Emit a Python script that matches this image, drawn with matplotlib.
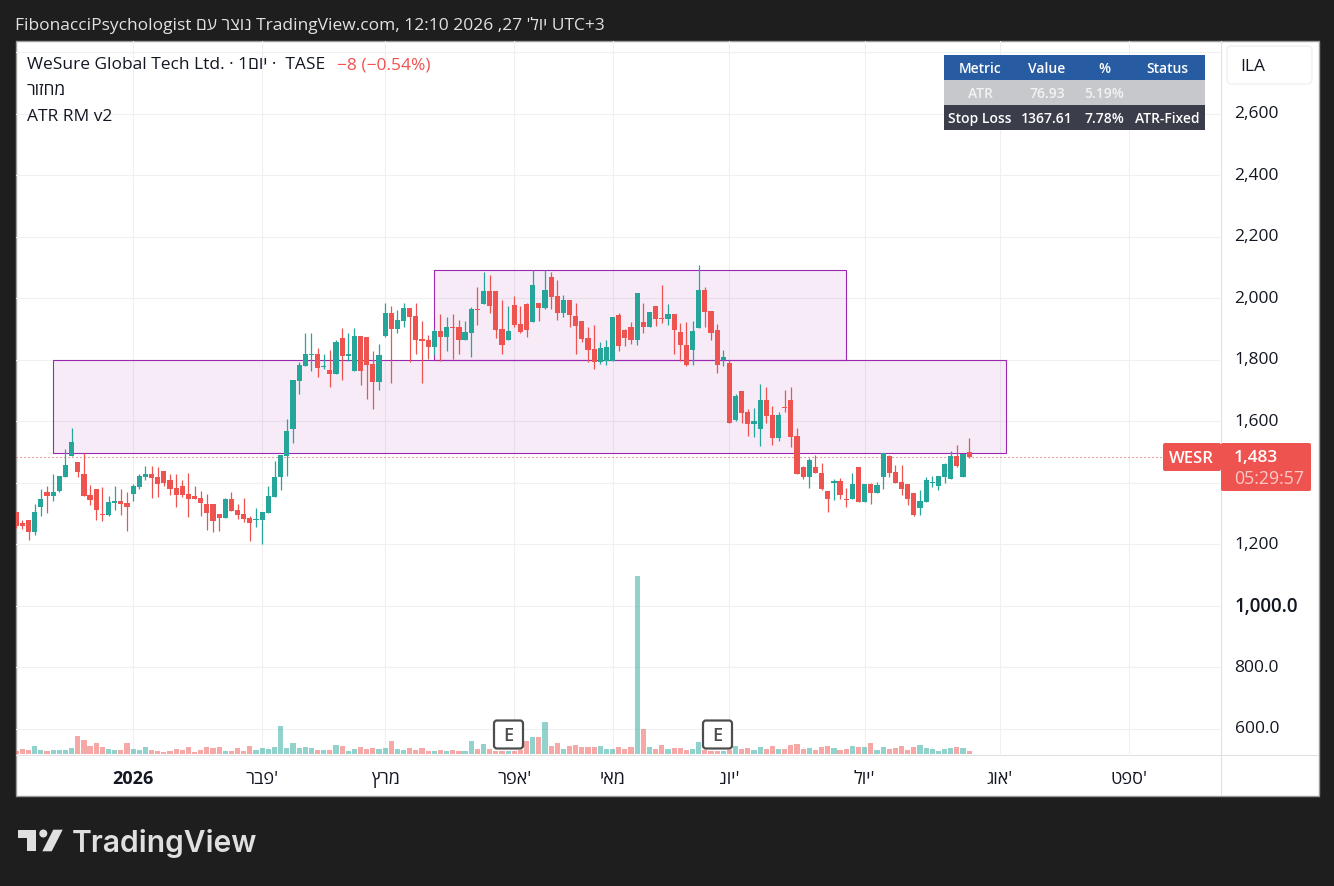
import matplotlib
matplotlib.use("Agg")
import matplotlib.pyplot as plt
from matplotlib.patches import FancyBboxPatch, Rectangle, Polygon, Circle
from matplotlib.transforms import ScaledTranslation

plt.rcParams['font.family'] = ['Open Sans', 'DejaVu Sans']

opens = [1305, 1269, 1279, 1240, 1321, 1370, 1357, 1373, 1419, 1487,
         1468, 1429, 1360, 1380, 1299, 1294, 1334, 1341, 1334, 1364,
         1386, 1419, 1429, 1419, 1439, 1409, 1383, 1390, 1364, 1357,
         1351, 1331, 1331, 1299, 1286, 1347, 1312, 1299, 1286, 1279,
         1279, 1302, 1354, 1419, 1487, 1575, 1731, 1780, 1816, 1819,
         1777, 1767, 1754, 1871, 1813, 1764, 1878, 1874, 1786, 1728,
         1878, 1952, 1900, 1926, 1969, 1943, 1868, 1865, 1842, 1894,
         1874, 1907, 1907, 1865, 1887, 1965, 1982, 2024, 2024, 1900,
         1865, 1978, 1917, 1982, 1923, 1985, 1969, 2069, 2008, 1952,
         1995, 1943, 1926, 1871, 1835, 1793, 1796, 1796, 1946, 1897,
         1907, 1865, 1923, 1907, 1975, 1936, 1933, 1949, 1891, 1848,
         1832, 1904, 2027, 1959, 1897, 1799, 1790, 1604, 1699, 1630,
         1591, 1575, 1669, 1621, 1546, 1647, 1669, 1552, 1452, 1419,
         1452, 1432, 1373, 1399, 1406, 1347, 1347, 1452, 1338, 1396,
         1367, 1419, 1487, 1435, 1403, 1396, 1367, 1318, 1338, 1399,
         1390, 1419, 1412, 1487, 1419, 1500]
highs = [1305, 1278, 1279, 1331, 1380, 1390, 1429, 1422, 1510, 1578,
         1468, 1497, 1393, 1380, 1386, 1357, 1390, 1380, 1370, 1396,
         1429, 1455, 1455, 1452, 1439, 1429, 1429, 1409, 1432, 1390,
         1373, 1364, 1331, 1299, 1351, 1370, 1331, 1351, 1292, 1318,
         1305, 1390, 1471, 1491, 1608, 1734, 1793, 1887, 1887, 1838,
         1819, 1832, 1864, 1904, 1887, 1904, 1878, 1874, 1829, 1851,
         1985, 1975, 1962, 1985, 1969, 1985, 1926, 1881, 1900, 1949,
         1939, 1949, 1930, 1926, 1972, 2037, 2086, 2076, 2024, 1995,
         1975, 2008, 1975, 1985, 2092, 1985, 2092, 2086, 2060, 2011,
         1995, 1985, 1926, 1907, 1913, 1858, 1865, 1939, 1952, 1900,
         1923, 2017, 1985, 1956, 1975, 2043, 1982, 1949, 1920, 1923,
         1926, 2108, 2037, 1959, 1917, 1832, 1799, 1689, 1699, 1640,
         1643, 1721, 1712, 1650, 1630, 1702, 1712, 1578, 1455, 1481,
         1491, 1465, 1373, 1412, 1416, 1383, 1432, 1452, 1396, 1399,
         1403, 1497, 1491, 1458, 1458, 1396, 1367, 1377, 1419, 1422,
         1422, 1465, 1504, 1523, 1494, 1546]
lows = [1253, 1250, 1214, 1231, 1292, 1302, 1341, 1370, 1419, 1487,
        1419, 1357, 1328, 1279, 1276, 1292, 1312, 1295, 1243, 1341,
        1380, 1409, 1351, 1354, 1390, 1360, 1321, 1354, 1289, 1347,
        1292, 1247, 1240, 1243, 1286, 1308, 1282, 1273, 1211, 1256,
        1201, 1302, 1354, 1377, 1422, 1530, 1689, 1780, 1764, 1744,
        1770, 1712, 1754, 1734, 1796, 1764, 1718, 1673, 1640, 1702,
        1874, 1725, 1887, 1907, 1793, 1819, 1725, 1803, 1816, 1796,
        1829, 1803, 1819, 1865, 1809, 1913, 1982, 1952, 1871, 1819,
        1865, 1907, 1887, 1874, 1923, 1926, 1965, 1965, 1930, 1939,
        1907, 1819, 1858, 1793, 1770, 1786, 1783, 1796, 1829, 1845,
        1851, 1848, 1887, 1907, 1910, 1920, 1913, 1819, 1796, 1780,
        1783, 1904, 1907, 1865, 1757, 1780, 1595, 1601, 1595, 1552,
        1549, 1520, 1595, 1523, 1536, 1630, 1517, 1429, 1412, 1383,
        1432, 1377, 1305, 1344, 1347, 1321, 1347, 1338, 1338, 1331,
        1367, 1380, 1419, 1399, 1360, 1328, 1292, 1295, 1338, 1386,
        1377, 1399, 1412, 1452, 1419, 1481]
closes = [1260, 1260, 1240, 1305, 1347, 1357, 1370, 1422, 1458, 1533,
          1435, 1357, 1344, 1312, 1295, 1338, 1341, 1331, 1321, 1390,
          1422, 1429, 1416, 1396, 1399, 1380, 1360, 1360, 1347, 1347,
          1334, 1302, 1276, 1286, 1347, 1308, 1295, 1282, 1269, 1282,
          1305, 1357, 1419, 1491, 1569, 1734, 1783, 1819, 1819, 1774,
          1780, 1754, 1858, 1813, 1819, 1878, 1764, 1783, 1728, 1816,
          1952, 1900, 1930, 1969, 1939, 1865, 1861, 1842, 1894, 1874,
          1907, 1904, 1865, 1891, 1965, 1962, 2024, 1975, 1897, 1848,
          1894, 1913, 1891, 1897, 2043, 1969, 2027, 2004, 1952, 1995,
          1946, 1910, 1868, 1832, 1793, 1838, 1842, 1939, 1845, 1871,
          1865, 2017, 1907, 1956, 1933, 1933, 1949, 1897, 1848, 1783,
          1894, 2027, 1956, 1887, 1783, 1809, 1595, 1682, 1627, 1591,
          1601, 1669, 1617, 1546, 1621, 1643, 1549, 1429, 1419, 1474,
          1432, 1380, 1347, 1406, 1360, 1344, 1396, 1338, 1396, 1367,
          1393, 1497, 1432, 1399, 1380, 1347, 1295, 1341, 1409, 1403,
          1422, 1461, 1487, 1455, 1494, 1483]
volumes = [9, 14, 12, 24, 12, 9, 12, 12, 12, 18,
           54, 42, 24, 33, 21, 15, 12, 12, 33, 15,
           12, 21, 12, 9, 6, 9, 15, 12, 21, 6,
           12, 21, 18, 21, 9, 9, 18, 9, 24, 12,
           18, 15, 21, 84, 18, 33, 18, 21, 18, 12,
           12, 12, 27, 24, 9, 15, 21, 15, 18, 15,
           18, 39, 15, 12, 18, 12, 18, 9, 9, 12,
           9, 12, 9, 9, 39, 15, 30, 15, 9, 9,
           9, 9, 12, 39, 51, 51, 96, 24, 33, 15,
           24, 27, 21, 21, 21, 24, 15, 15, 21, 15,
           21, 534, 75, 21, 15, 27, 15, 18, 18, 12,
           15, 36, 12, 9, 9, 9, 12, 24, 15, 18,
           12, 21, 15, 24, 15, 15, 27, 30, 15, 18,
           12, 21, 24, 18, 12, 15, 24, 21, 21, 33,
           12, 21, 15, 18, 24, 12, 21, 27, 18, 15,
           9, 15, 18, 21, 18, 9]

price_ticks = [600, 800, 1000, 1200, 1400, 1600, 1800, 2000, 2200, 2400, 2600, 2800]
price_labels = ["600.0", "800.0", "1,000.0", "1,200", "", "1,600", "1,800",
                "2,000", "2,200", "2,400", "2,600", ""]
month_pos = [19, 40, 60, 81, 97, 116, 138, 160, 181]


def he(s):
    # matplotlib has no bidi, so hebrew goes in visual order
    return s[::-1]


month_labels = ["2026", he("פבר") + "'", he("מרץ"), he("אפר") + "'", he("מאי"),
                he("יונ") + "'", he("יול") + "'", he("אוג") + "'", he("ספט") + "'"]

zone_low = [1496, 1799]
zone_high = [1799, 2091]
zone_start = [6, 68]
zone_end = [161, 135]

table_rows = [["Metric", "Value", "%", "Status"],
              ["ATR", "76.93", "5.19%", ""],
              ["Stop Loss", "1367.61", "7.78%", "ATR-Fixed"]]

last_price = 1483
green = "#26a69a"
red = "#ef5350"
purple = "#9c27b0"
ink = "#131722"
W, H = 1334, 887


def px_rect(x0, y0, x1, y1):
    return [x0 / W, 1 - y1 / H, (x1 - x0) / W, (y1 - y0) / H]


fig = plt.figure(figsize=(W / 100, H / 100), dpi=100, facecolor="#1e1e1e")

# white frame behind the chart
back = fig.add_axes([0, 0, 1, 1], zorder=0)
back.set_xlim(0, W)
back.set_ylim(H, 0)
back.axis("off")
back.add_patch(Rectangle((15.5, 41.5), 1303, 755, fc="white", ec="#9a9a9a", lw=1))
back.plot([1220.5, 1220.5], [42, 796], color="#e0e0e0", lw=0.75)
back.plot([16, 1318], [755.5, 755.5], color="#e0e0e0", lw=0.75)

ax = fig.add_axes(px_rect(16, 42, 1220, 755), zorder=1)
ax.patch.set_alpha(0)
ax.set_xlim(-0.05, 195.8)
ax.set_ylim(518.5, 2836.5)
for s in ax.spines.values():
    s.set_visible(False)
ax.set_axisbelow(True)
ax.grid(True, color="#f0f0f0", lw=0.75)
ax.yaxis.tick_right()
ax.set_yticks(price_ticks)
ax.set_yticklabels(price_labels)
ax.set_xticks(month_pos)
ax.set_xticklabels(month_labels)
ax.tick_params(axis="y", length=0, pad=10.5, labelsize=12.5, labelcolor=ink)
ax.tick_params(axis="x", length=0, pad=11, labelsize=13, labelcolor=ink)
ax.get_xticklabels()[0].set_fontweight("bold")
# price labels sit a little above their grid lines
for lab in ax.get_yticklabels():
    lab.set_transform(lab.get_transform() + ScaledTranslation(0, 0.025, fig.dpi_scale_trans))
ax.get_yticklabels()[2].set_fontweight("semibold")
ax.get_yticklabels()[2].set_fontsize(13.5)

# zones
for lo, hi, a, b in zip(zone_low, zone_high, zone_start, zone_end):
    ax.add_patch(Rectangle((a, lo), b - a, hi - lo, fc=purple, alpha=0.09, lw=0, zorder=1))
    ax.add_patch(Rectangle((a, lo), b - a, hi - lo, fc="none", ec=purple, lw=0.8, zorder=1.5))

ax.axhline(last_price, color=red, lw=0.8, ls=(0, (1, 2.6)), zorder=1.6)

# candles
xs = list(range(len(opens)))
colors = [green if c >= o else red for o, c in zip(opens, closes)]
ax.vlines(xs, lows, highs, colors=colors, lw=0.9, zorder=2)
ax.bar(xs, [abs(c - o) for o, c in zip(opens, closes)], bottom=[min(o, c) for o, c in zip(opens, closes)],
       width=0.84, color=colors, lw=0, zorder=3)

# volume pane on the same x
vol = fig.add_axes(px_rect(16, 42, 1220, 755), zorder=2, sharex=ax)
vol.patch.set_alpha(0)
vol.set_ylim(0, 2139)
vol.axis("off")
vol.bar(xs, volumes, width=0.84, color=colors, alpha=0.5, lw=0)

# everything that sits on top of the chart, in pixels
top = fig.add_axes([0, 0, 1, 1], zorder=5)
top.set_xlim(0, W)
top.set_ylim(H, 0)
top.axis("off")

top.text(15, 25, "FibonacciPsychologist " + he("נוצר עם") + " TradingView.com, 12:10 2026 ,27 '" + he("יול") + " UTC+3",
         color="#e2e2e2", fontsize=12.5, va="center", ha="left")
top.text(27, 65, "WeSure Global Tech Ltd. · 1" + he("יום") + " ·  TASE", color=ink, fontsize=12.5, va="center")
top.text(337, 65, "−8 (−0.54%)", color=red, fontsize=12.5, va="center")
top.text(27, 91, he("מחזור"), color=ink, fontsize=12.5, va="center")
top.text(27, 117, "ATR RM v2", color=ink, fontsize=12.5, va="center")

# table
row_y = [56, 81, 106, 131]
row_fc = ["#21579f", "#c6c7cb", "#343844"]
row_tc = ["white", "#f2f2f2", "white"]
col_x = [980, 1047, 1104, 1167]
for i, row in enumerate(table_rows):
    top.add_patch(Rectangle((944, row_y[i]), 261, row_y[i + 1] - row_y[i], fc=row_fc[i], lw=0, alpha=0.97))
    for cx, txt in zip(col_x, row):
        top.text(cx, (row_y[i] + row_y[i + 1]) / 2 + 0.5, txt, color=row_tc[i], fontsize=10,
                 fontweight="semibold", ha="center", va="center")

# currency button
top.add_patch(FancyBboxPatch((1230, 50), 79, 32, boxstyle="round,pad=3,rounding_size=5", fc="white", ec="#f0f0f0", lw=1))
top.text(1240, 67, "ILA", color=ink, fontsize=12.5, va="center")

# last price labels
top.add_patch(FancyBboxPatch((1165, 446), 54, 24, boxstyle="round,pad=2,rounding_size=2", fc=red, lw=0))
top.text(1191, 459, "WESR", color="white", fontsize=12, fontweight="semibold", ha="center", va="center")
top.add_patch(FancyBboxPatch((1223, 446), 86, 44, boxstyle="round,pad=2,rounding_size=2", fc=red, lw=0))
top.text(1234, 458, "1,483", color="white", fontsize=12.5, fontweight="semibold", va="center")
top.text(1234, 479, "05:29:57", color="#fbc9c8", fontsize=12.8, va="center")

# earnings flags
for ex in [508.5, 717.5]:
    top.add_patch(FancyBboxPatch((ex - 13, 723), 26, 25, boxstyle="round,pad=1.5,rounding_size=3",
                                 fc="white", ec="#4d4d4d", lw=1.6))
    top.text(ex, 736.5, "E", color="#4d4d4d", fontsize=13, fontweight="semibold", ha="center", va="center")

# logo
logo = "#e0e0e0"
top.add_patch(Polygon([(18.3, 830.7), (36, 830.7), (36, 852.3), (27.3, 852.3), (27.3, 839), (18.3, 839)], fc=logo, lw=0))
top.add_patch(Circle((43.3, 834.5), 4, fc=logo, lw=0))
top.add_patch(Polygon([(53.3, 830.7), (62.7, 830.7), (51.7, 852.3), (42.3, 852.3)], fc=logo, lw=0))
top.text(72, 844, "TradingView", color=logo, fontsize=21.6, family="Inter", fontweight="semibold", va="center")

fig.savefig("out.png", dpi=100, facecolor=fig.get_facecolor())
